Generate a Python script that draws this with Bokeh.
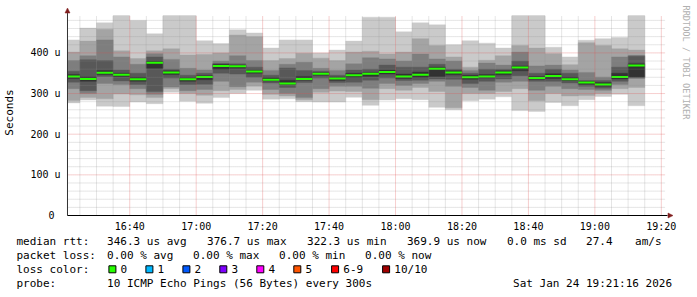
import numpy as np
from datetime import datetime
from bokeh.plotting import figure
from bokeh.layouts import column
from bokeh.models import Range1d, FixedTicker, DatetimeTickFormatter, Arrow, NormalHead, Title
from bokeh.core.properties import value
from bokeh.embed import file_html
from bokeh.resources import INLINE

# ---------------- data ----------------
slot_start = ["16:20", "16:25", "16:30", "16:35", "16:40", "16:45", "16:50", "16:55",
              "17:00", "17:05", "17:10", "17:15", "17:20", "17:25", "17:30", "17:35",
              "17:40", "17:45", "17:50", "17:55", "18:00", "18:05", "18:10", "18:15",
              "18:20", "18:25", "18:30", "18:35", "18:40", "18:45", "18:50", "18:55",
              "19:00", "19:05", "19:10"]

# sorted ping rtt per 5-minute step (us); values above the graph limit run off the top
ping1 = [277, 284, 269, 268, 279, 275, 303, 281, 276, 290, 300, 308, 286, 287, 280, 279, 279, 291,
         271, 284, 287, 285, 266, 260, 282, 286, 292, 258, 256, 278, 270, 285, 293, 298, 270]
ping2 = [283, 290, 287, 299, 297, 290, 312, 300, 296, 307, 310, 318, 298, 294, 285, 303, 306, 305,
         285, 312, 308, 315, 305, 265, 300, 300, 305, 312, 282, 300, 294, 295, 300, 312, 315]
ping3 = [312, 300, 325, 322, 312, 298, 316, 307, 310, 330, 317, 328, 310, 300, 290, 312, 318, 318,
         313, 325, 320, 325, 330, 318, 315, 308, 328, 330, 308, 318, 312, 310, 308, 322, 337]
ping4 = [328, 307, 342, 331, 322, 305, 338, 322, 323, 350, 348, 340, 326, 315, 327, 338, 327, 328,
         333, 338, 332, 333, 336, 335, 325, 330, 336, 344, 330, 330, 326, 318, 313, 330, 339]
ping5 = [337, 330, 347, 342, 330, 362, 347, 330, 334, 360, 362, 350, 331, 322, 333, 345, 332, 340,
         342, 348, 337, 340, 342, 346, 335, 338, 346, 356, 335, 337, 332, 323, 318, 336, 341]
ping6 = [347, 341, 357, 350, 340, 380, 356, 339, 344, 372, 370, 358, 339, 333, 342, 352, 341, 350,
         352, 358, 348, 353, 365, 356, 345, 347, 356, 368, 342, 349, 340, 330, 327, 350, 373]
ping7 = [355, 383, 381, 358, 350, 390, 360, 345, 350, 374, 373, 365, 345, 363, 357, 355, 345, 358,
         360, 370, 365, 365, 372, 360, 350, 360, 360, 380, 350, 360, 350, 332, 332, 365, 392]
ping8 = [381, 393, 432, 390, 372, 398, 384, 362, 358, 380, 393, 381, 357, 372, 377, 362, 357, 373,
         388, 385, 380, 397, 385, 380, 357, 375, 370, 402, 368, 370, 358, 352, 340, 390, 394]
ping9 = [402, 429, 458, 405, 386, 405, 410, 395, 396, 400, 444, 440, 381, 386, 399, 387, 381, 402,
         404, 397, 402, 435, 418, 390, 365, 382, 393, 418, 412, 398, 371, 425, 418, 410, 407]
ping10 = [432, 461, 474, 520, 480, 447, 520, 520, 430, 423, 457, 449, 412, 432, 432, 400, 407, 429,
          488, 488, 452, 474, 469, 420, 430, 424, 412, 520, 520, 414, 390, 431, 435, 438, 520]
median = [342, 336, 351, 346, 335, 376, 352, 335, 341, 368, 367, 354, 334, 325, 336, 349, 337, 345,
          349, 353, 342, 346, 361, 352, 340, 342, 352, 364, 338, 343, 335, 327, 322, 341, 369]

x_tick_labels = ["16:40", "17:00", "17:20", "17:40", "18:00", "18:20", "18:40", "19:00", "19:20"]
y_ticks = [0, 100, 200, 300, 400]
y_tick_labels = ["0\u00a0", "100 u", "200 u", "300 u", "400 u"]

loss_labels = ["0", "1", "2", "3", "4", "5", "6-9", "10/10"]
loss_colors = ["#26ff00", "#00b8ff", "#0059ff", "#7e00ff", "#ff00ff", "#ff5500", "#ff0000", "#a00000"]

stats_rtt = ["346.3 us avg", "376.7 us max", "322.3 us min", "369.9 us now", "0.0 ms sd", "27.4", "am/s"]
stats_loss = ["0.00 % avg", "0.00 % max", "0.00 % min", "0.00 % now"]
probe_text = "10 ICMP Echo Pings (56 Bytes) every 300s"
stamp_text = "Sat Jan 24 19:21:16 2026"

# ---------------- helpers / geometry ----------------
EPOCH = datetime(1970, 1, 1)


def ms(hhmm, sec=0):
    h, m = map(int, hhmm.split(":"))
    return (datetime(2026, 1, 24, h, m, sec) - EPOCH).total_seconds() * 1000.0


T0 = ms("16:21", 16)          # graph start
MS_PX = 18000.0               # 3 hours over 600 px
YTOP = 492.0                  # graph upper limit
U_PX = YTOP / 200.0           # units per pixel
# frame: px 62..676 horizontally, px 5..219 vertically (graph area 66..666 x 15..215)
X_START = T0 - 4 * MS_PX
X_END = T0 + 610 * MS_PX
Y_START = -4 * U_PX
Y_END = 210 * U_PX

MONO = "DejaVu Sans Mono"
SHADES = ["#cacaca", "#a4a4a4", "#7e7e7e", "#585858", "#323232"]

p = figure(width=697, height=235, x_axis_type="datetime",
           x_range=Range1d(X_START, X_END), y_range=Range1d(Y_START, Y_END),
           output_backend="svg", toolbar_location=None,
           min_border_left=62, min_border_right=21, min_border_top=5, min_border_bottom=16,
           background_fill_color="white", border_fill_color="white")
p.frame_align = False
p.outline_line_color = None
p.xgrid.visible = False
p.ygrid.visible = False

left = np.maximum(np.array([ms(s) for s in slot_start]), T0)
right = np.array([ms(s) for s in slot_start]) + 300000.0
pings = [ping1, ping2, ping3, ping4, ping5, ping6, ping7, ping8, ping9, ping10]
for i in range(5):
    bot = np.minimum(np.array(pings[i], float), YTOP)
    top = np.minimum(np.array(pings[9 - i], float), YTOP)
    p.quad(left=left, right=right, bottom=bot, top=top,
           fill_color=SHADES[i], line_color=SHADES[i], line_width=0.4)

med = np.array(median, float)
p.quad(left=left, right=right, bottom=med - U_PX, top=med + U_PX,
       fill_color="#26ff00", line_color=None)

# grid drawn over the smoke, like rrdtool
vx = np.arange(ms("16:25"), ms("19:20") + 1, 300000.0)
vmajor = (np.round((vx - ms("16:00")) / 60000.0) % 20) == 0
hy = np.arange(20, 481, 20)
hmajor = (hy % 100) == 0
for major, col, alpha in ((False, "#8f8f8f", 0.45), (True, "#de4f4f", 0.55)):
    xs = vx[vmajor == major]
    p.segment(x0=xs, y0=np.zeros(len(xs)), x1=xs, y1=np.full(len(xs), YTOP),
              line_color=col, line_alpha=alpha, line_dash="1 1", line_width=1)
    ys = hy[hmajor == major]
    p.segment(x0=np.full(len(ys), T0), y0=ys, x1=np.full(len(ys), T0 + 600 * MS_PX), y1=ys,
              line_color=col, line_alpha=alpha, line_dash="1 1", line_width=1)

# axis lines with arrows (rrdtool style)
AR = "#801f1f"
p.segment(x0=[T0], y0=[0], x1=[T0], y1=[498], line_color="#333333", line_width=1)
p.segment(x0=[T0], y0=[0], x1=[T0 + 602 * MS_PX], y1=[0], line_color="#000000", line_width=1)
p.add_layout(Arrow(x_start=T0, y_start=496, x_end=T0, y_end=(215 - 7.5) * U_PX, line_color=None,
                   end=NormalHead(size=5, fill_color=AR, line_color=AR, line_width=0.5)))
p.add_layout(Arrow(x_start=T0 + 601 * MS_PX, y_start=0, x_end=T0 + 607.5 * MS_PX, y_end=0, line_color=None,
                   end=NormalHead(size=5, fill_color=AR, line_color=AR, line_width=0.5)))

# axes (labels only)
p.xaxis.ticker = FixedTicker(ticks=[ms(t) for t in x_tick_labels])
p.xaxis.formatter = DatetimeTickFormatter(minutes="%H:%M", hourmin="%H:%M", hours="%H:%M")
p.yaxis.ticker = FixedTicker(ticks=y_ticks)
p.yaxis.major_label_overrides = {t: l for t, l in zip(y_ticks, y_tick_labels)}
for ax in (p.xaxis[0], p.yaxis[0]):
    ax.major_tick_in = 0
    ax.major_tick_out = 0
    ax.minor_tick_in = 0
    ax.minor_tick_out = 0
    ax.axis_line_color = None
    ax.major_label_text_font = MONO
    ax.major_label_text_font_size = "10px"
    ax.major_label_text_color = "#000000"
p.xaxis.major_label_standoff = 1
p.yaxis.major_label_standoff = 3
p.xaxis.bounds = (T0, T0 + 602 * MS_PX)
p.yaxis.bounds = (0, 498)
p.yaxis.axis_label = "Seconds"
p.yaxis.axis_label_text_font = MONO
p.yaxis.axis_label_text_font_size = "11px"
p.yaxis.axis_label_text_font_style = "normal"
p.yaxis.axis_label_text_color = "#000000"
p.yaxis.axis_label_standoff = 11

p.add_layout(Title(text="RRDTOOL / TOBI OETIKER", align="left",
                   text_font=MONO, text_font_size="8.6px", text_color="#b0b0b0",
                   text_font_style="normal"), "right")

# ---------------- legend area ----------------
q = figure(width=697, height=62, x_range=Range1d(0, 697), y_range=Range1d(297, 235),
           output_backend="svg", toolbar_location=None,
           min_border_left=0, min_border_right=0, min_border_top=0, min_border_bottom=0,
           x_axis_location=None, y_axis_location=None,
           background_fill_color="white", border_fill_color="white")
q.frame_align = False
q.outline_line_color = None
q.xgrid.visible = False
q.ygrid.visible = False

FS = value("11px")
ROW = [240.7, 255.0, 268.8, 283.3]
txt, tx, ty = [], [], []


def put(s, x, y):
    txt.append(s)
    tx.append(x)
    ty.append(y)


put("median rtt:", 16.0, ROW[0])
for s, x in zip(stats_rtt, [106.6, 206.6, 306.6, 406.4, 506.4, 585.6, 634.6]):
    put(s, x, ROW[0])
put("packet loss:", 16.0, ROW[1])
for s, x in zip(stats_loss, [106.6, 192.6, 278.6, 364.6]):
    put(s, x, ROW[1])
put("loss color:", 16.0, ROW[2])
sq_left = [108.3, 145.3, 182.3, 219.2, 256.2, 293.2, 331.0, 382.0]
for s, x in zip(loss_labels, sq_left):
    put(s, x + 11.8, ROW[2])
put("probe:", 16.0, ROW[3])
put(probe_text, 106.6, ROW[3])
put(stamp_text, 512.6, ROW[3])

q.text(x=tx, y=ty, text=txt, text_font=value(MONO), text_font_size=FS,
       text_baseline="middle", text_align="left", text_color="#000000")
q.rect(x=[v + 3.6 for v in sq_left], y=[ROW[2]] * len(sq_left), width=7.0, height=7.0,
       fill_color=loss_colors, line_color="#000000", line_width=1)

layout = column(p, q, spacing=0)
open("out.html", "w").write(file_html(layout, INLINE))
